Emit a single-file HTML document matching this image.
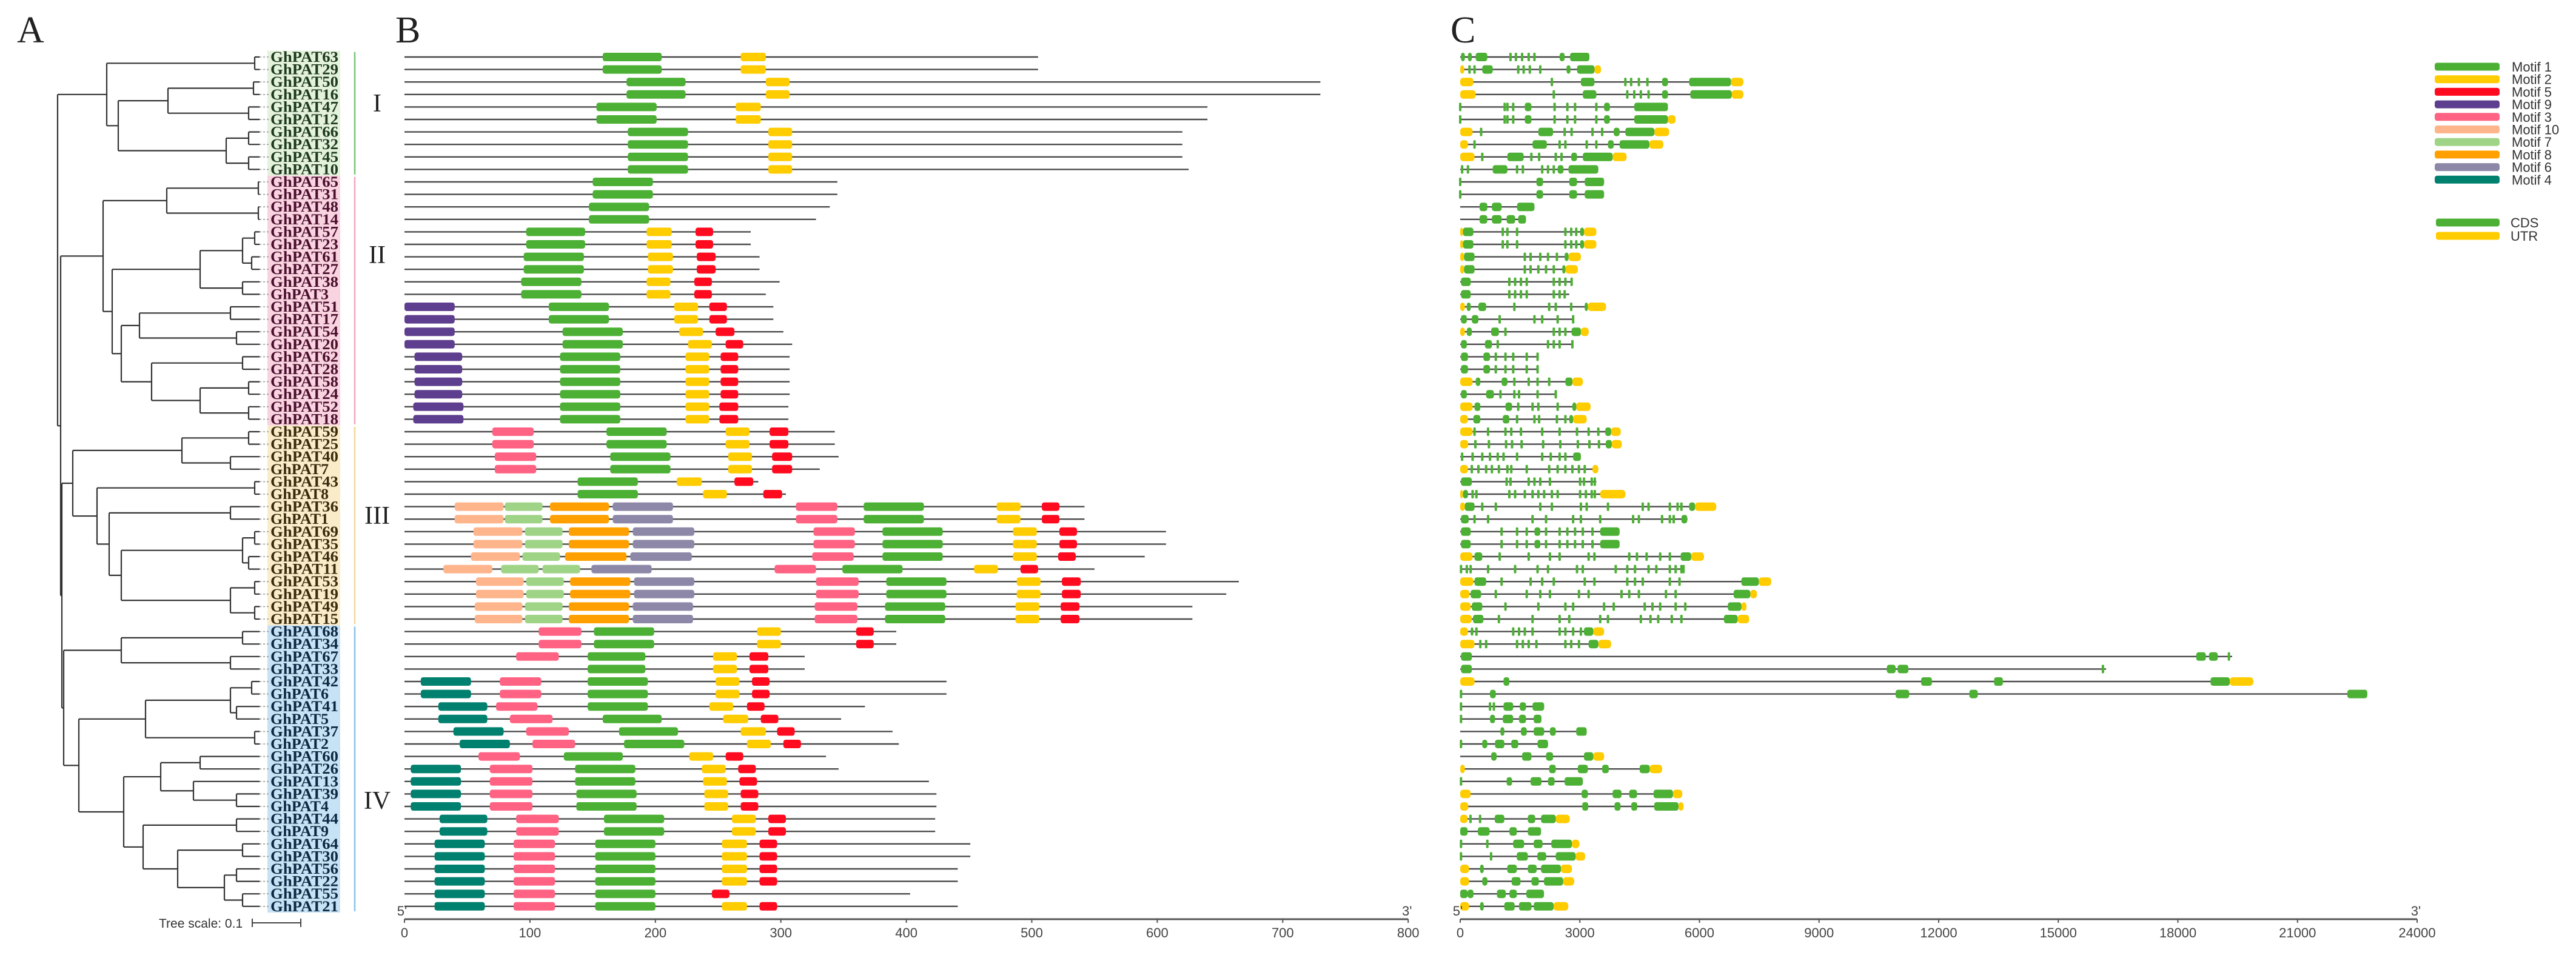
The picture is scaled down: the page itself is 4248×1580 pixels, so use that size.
<!DOCTYPE html>
<html><head><meta charset="utf-8"><title>GhPAT phylogeny, motifs and gene structure</title>
<style>
html,body{margin:0;padding:0;background:#fff;}
svg{display:block;}
text{font-family:"Liberation Sans",sans-serif;}
.serif{font-family:"Liberation Serif",serif;}
</style></head>
<body>
<svg id="fig" width="4248" height="1580" viewBox="0 0 4248 1580" xmlns="http://www.w3.org/2000/svg">
<rect x="0" y="0" width="4248" height="1580" fill="#fff"/>
<text class="serif" x="28" y="70" font-size="62" fill="#222">A</text>
<text class="serif" x="652" y="70" font-size="62" fill="#222">B</text>
<text class="serif" x="2392" y="70" font-size="62" fill="#222">C</text>
<g id="tree"></g>
<g id="labels"></g>
<g id="groups"></g>
<g id="motifs"></g>
<g id="genes"></g>
<g id="legend"></g>
<g>
<text x="262" y="1530" font-size="21" fill="#333">Tree scale: 0.1</text>
<line x1="416" y1="1522" x2="496" y2="1522" stroke="#444" stroke-width="2"/>
<line x1="416" y1="1515" x2="416" y2="1529" stroke="#444" stroke-width="2"/>
<line x1="496" y1="1515" x2="496" y2="1529" stroke="#444" stroke-width="2"/>
</g>
</svg>
<script>
const geneNames = ["GhPAT63","GhPAT29","GhPAT50","GhPAT16","GhPAT47","GhPAT12","GhPAT66","GhPAT32","GhPAT45","GhPAT10",
"GhPAT65","GhPAT31","GhPAT48","GhPAT14","GhPAT57","GhPAT23","GhPAT61","GhPAT27","GhPAT38","GhPAT3",
"GhPAT51","GhPAT17","GhPAT54","GhPAT20","GhPAT62","GhPAT28","GhPAT58","GhPAT24","GhPAT52","GhPAT18",
"GhPAT59","GhPAT25","GhPAT40","GhPAT7","GhPAT43","GhPAT8","GhPAT36","GhPAT1","GhPAT69","GhPAT35",
"GhPAT46","GhPAT11","GhPAT53","GhPAT19","GhPAT49","GhPAT15","GhPAT68","GhPAT34","GhPAT67","GhPAT33",
"GhPAT42","GhPAT6","GhPAT41","GhPAT5","GhPAT37","GhPAT2","GhPAT60","GhPAT26","GhPAT13","GhPAT39",
"GhPAT4","GhPAT44","GhPAT9","GhPAT64","GhPAT30","GhPAT56","GhPAT22","GhPAT55","GhPAT21"];
const groupNames = ["I","II","III","IV"];
const groupStart = [0,10,30,46];
const groupEnd = [9,29,45,68];
const groupLabelY = [170,420,850,1320];
const groupBg = ["#e4f1dc","#f9d3e0","#fbecc9","#c6e2f4"];
const groupText = ["#1d3a1d","#4a0f2c","#3a2a0e","#0c2843"];
const groupLine = ["#7cc47c","#f2a6c0","#f1d79c","#8cc3e8"];
/* tree: [nodeX, child, child] ; numbers = leaf row index */
const treeI = [176,[420,0,1],[195,[277,[418,2,3],[410,4,5]],[373,[410,6,7],[410,8,9]]]];
const treeIIa = [275,[426,10,11],[426,12,13]];
const treeIIb = [185,[330,[400,[420,14,15],[415,16,17]],[400,18,19]],[200,[230,[380,20,21],[390,22,23]],[250,[400,24,25],[330,[410,26,27],[410,28,29]]]]];
const treeIII = [120,[300,[410,30,31],[380,32,33]],[160,[420,34,35],[180,[380,36,37],[200,[400,[420,38,39],[410,40,41]],[380,[420,42,43],[420,44,45]]]]]];
const treeIV = [105,[200,[400,46,47],[380,48,49]],[130,[240,[380,[415,50,51],[390,52,53]],[420,54,55]],[204,[265,[330,56,57],[319,58,[390,59,60]]],[236,[390,61,62],[293,[400,63,64],[370,[390,65,66],[400,67,68]]]]]]];
const treeRoot = [95,treeI,[100,[170,treeIIa,treeIIb],[102,treeIII,treeIV]]];

const motifNames = ["Motif 1","Motif 2","Motif 5","Motif 9","Motif 3","Motif 10","Motif 7","Motif 8","Motif 6","Motif 4"];
const motifIds = [1,2,5,9,3,10,7,8,6,4];
const motifColors = ["#4cb034","#ffcc00","#ff0a1e","#5e3e8e","#ff6282","#ffb58c","#9fd486","#ffa000","#8e88a8","#00806e"];
const protLen = [505,505,730,730,640,640,620,620,620,625,345,345,339,328,276,276,283,283,299,288,
294,294,302,309,307,307,307,307,306,306,343,343,346,331,282,304,542,542,607,607,
590,550,665,655,628,628,392,392,319,319,432,432,367,348,389,394,336,346,418,424,
424,423,423,451,451,441,441,403,441];
const motifSites = [
[[1,158,205],[2,268,288]],[[1,158,205],[2,268,288]],[[1,177,224],[2,288,307]],[[1,177,224],[2,288,307]],
[[1,153,201],[2,264,284]],[[1,153,201],[2,264,284]],[[1,178,226],[2,290,309]],[[1,178,226],[2,290,309]],
[[1,178,226],[2,290,309]],[[1,178,226],[2,290,309]],
[[1,150,198]],[[1,150,198]],[[1,147,195]],[[1,147,195]],
[[1,97,144],[2,193,213],[5,232,246]],[[1,97,144],[2,193,213],[5,232,246]],
[[1,95,143],[2,194,214],[5,233,248]],[[1,95,143],[2,194,214],[5,233,248]],
[[1,93,141],[2,193,212],[5,231,245]],[[1,93,141],[2,193,212],[5,231,245]],
[[9,0,40],[1,115,163],[2,215,234],[5,243,257]],[[9,0,40],[1,115,163],[2,215,234],[5,243,257]],
[[9,0,40],[1,126,174],[2,219,238],[5,248,263]],[[9,0,40],[1,126,174],[2,226,245],[5,256,270]],
[[9,8,46],[1,124,172],[2,224,243],[5,252,266]],[[9,8,46],[1,124,172],[2,224,243],[5,252,266]],
[[9,8,46],[1,124,172],[2,224,243],[5,252,266]],[[9,8,46],[1,124,172],[2,224,243],[5,252,266]],
[[9,7,47],[1,124,172],[2,224,243],[5,251,266]],[[9,7,47],[1,124,172],[2,224,243],[5,251,266]],
[[3,70,103],[1,161,209],[2,256,275],[5,291,306]],[[3,70,103],[1,161,209],[2,256,275],[5,291,306]],
[[3,72,105],[1,164,212],[2,258,277],[5,293,309]],[[3,72,105],[1,164,212],[2,258,277],[5,293,309]],
[[1,138,186],[2,217,237],[5,263,278]],[[1,138,186],[2,238,257],[5,286,301]],
[[10,40,79],[7,80,110],[8,116,163],[6,166,214],[3,312,345],[1,366,414],[2,472,491],[5,508,522]],
[[10,40,79],[7,80,110],[8,116,163],[6,166,214],[3,312,345],[1,366,414],[2,472,491],[5,508,522]],
[[10,55,94],[7,96,126],[8,131,179],[6,182,231],[3,326,359],[1,381,429],[2,485,504],[5,522,536]],
[[10,55,94],[7,96,126],[8,131,179],[6,182,231],[3,326,359],[1,381,429],[2,485,504],[5,522,536]],
[[10,53,92],[7,94,124],[8,128,177],[6,180,229],[3,325,358],[1,381,429],[2,485,504],[5,521,535]],
[[10,31,70],[7,77,107],[7,110,140],[6,149,197],[3,295,328],[1,349,397],[2,454,473],[5,491,505]],
[[10,57,95],[7,97,127],[8,132,180],[6,183,231],[3,328,362],[1,384,432],[2,488,507],[5,524,539]],
[[10,57,95],[7,97,127],[8,132,180],[6,183,231],[3,328,362],[1,384,432],[2,488,507],[5,524,539]],
[[10,56,94],[7,96,126],[8,131,179],[6,182,230],[3,327,361],[1,383,431],[2,487,506],[5,523,538]],
[[10,56,94],[7,96,126],[8,131,179],[6,182,230],[3,327,361],[1,383,431],[2,487,506],[5,523,538]],
[[3,107,141],[1,151,199],[2,281,300],[5,360,374]],[[3,107,141],[1,151,199],[2,281,300],[5,360,374]],
[[3,89,123],[1,146,192],[2,246,265],[5,275,290]],[[1,146,192],[2,246,265],[5,275,290]],
[[4,13,53],[3,76,109],[1,146,194],[2,248,267],[5,277,291]],[[4,13,53],[3,76,109],[1,146,194],[2,248,267],[5,277,291]],
[[4,27,66],[3,73,106],[1,146,194],[2,243,262],[5,273,287]],[[4,27,66],[3,84,118],[1,158,205],[2,254,274],[5,284,298]],
[[4,39,79],[3,97,131],[1,171,218],[2,268,288],[5,297,311]],[[4,44,84],[3,102,136],[1,175,223],[2,273,292],[5,302,316]],
[[3,59,92],[1,127,174],[2,227,246],[5,256,270]],[[4,5,45],[3,68,102],[1,136,184],[2,237,256],[5,266,280]],
[[4,5,45],[3,68,102],[1,136,184],[2,238,257],[5,267,281]],[[4,5,45],[3,68,102],[1,137,185],[2,239,258],[5,268,282]],
[[4,5,45],[3,68,102],[1,137,185],[2,239,258],[5,268,282]],
[[4,28,66],[3,89,123],[1,159,207],[2,261,280],[5,290,304]],[[4,28,66],[3,89,123],[1,159,207],[2,261,280],[5,290,304]],
[[4,24,64],[3,87,120],[1,152,200],[2,253,273],[5,283,297]],[[4,24,64],[3,87,120],[1,152,200],[2,253,273],[5,283,297]],
[[4,24,64],[3,87,120],[1,152,200],[2,253,273],[5,283,297]],[[4,24,64],[3,87,120],[1,152,200],[2,253,273],[5,283,297]],
[[4,24,64],[3,87,120],[1,152,200],[5,245,259]],[[4,24,64],[3,87,120],[1,152,200],[2,253,273],[5,283,297]]
];
const axisBTicks = [0,100,200,300,400,500,600,700,800];

const geneLen = [3240,3530,7100,7100,5209,5400,5238,5093,4171,3463,3608,3608,1862,1649,3414,3414,3026,2949,2820,2735,
3657,2850,3220,2840,1960,1960,3075,2420,3269,3172,4025,4050,3026,3463,3414,4142,6421,5700,3997,3997,
6111,5600,7799,7440,7178,7246,3608,3783,19360,16200,19890,22750,2105,2037,3172,2202,3608,5063,3075,5568,
5600,2746,2027,2986,3133,2801,2857,2101,2709];
const cdsBlocks = [
[[20,116],[194,291],[388,679],[2493,2619],[2755,3240]],
[[553,815],[2667,2765],[2930,3367]],
[[3026,3366],[5063,5209],[5742,6790]],
[[3075,3414],[5063,5209],[5772,6809]],
[[1620,1785],[3608,3754],[4365,5209]],
[[1620,1785],[3608,3754],[4365,5209]],
[[1960,2328],[3850,3997],[4142,4869]],
[[1814,2173],[3705,3850],[3997,4743]],
[[1183,1591],[2784,2929],[3075,3822]],
[[815,1183],[2444,2590],[2716,3463]],
[[1911,2076],[2735,2929],[3123,3608]],
[[1911,2076],[2735,2929],[3123,3608]],
[[485,679],[795,1038],[1426,1862]],
[[485,679],[795,1038],[1164,1377],[1455,1649]],
[[70,330],[3007,3104]],
[[70,330],[3007,3104]],
[[97,359],[2619,2716]],
[[97,359],[2560,2638]],
[[20,262]],
[[20,262]],
[[165,262],[456,650],[3123,3201]],
[[20,165],[291,456]],
[[165,291],[776,970],[2794,3026]],
[[20,165],[621,795]],
[[20,194],[582,747]],
[[20,194],[582,747]],
[[388,504],[1038,1183],[2638,2813]],
[[20,165],[650,844]],
[[359,504],[1135,1300],[2813,2910]],
[[330,504],[1067,1232],[2735,2832]],
[[3637,3783]],
[[3650,3800]],
[[2832,3026]],
[],
[[20,291]],
[[70,194]],
[[116,359],[5742,5888]],
[[20,213],[5548,5694]],
[[20,262],[1862,2008],[3511,3997]],
[[20,262],[1862,2008],[3511,3997]],
[[359,553],[5529,5791]],
[],
[[359,650],[7052,7488]],
[[262,524],[6858,7275]],
[[291,553],[6712,7052]],
[[320,582],[6615,6955]],
[[262,330],[3104,3337]],
[[3220,3463]],
[[20,291],[18460,18700],[18780,19000]],
[[20,291],[10700,10920],[10970,11240]],
[[1086,1232],[11560,11830],[13390,13610],[18820,19300]],
[[747,892],[10920,11260],[12770,12980],[22250,22750]],
[[1086,1329],[1494,1649],[1814,2105]],
[[747,873],[1067,1329],[1475,1649],[1843,2037]],
[[1009,1106],[1523,1668],[1843,2105],[2250,2396],[2910,3172]],
[[553,679],[873,1106],[1280,1455],[1940,2202]],
[[776,912],[1552,1785],[2153,2328],[3104,3337]],
[[2231,2396],[2949,3201],[3560,3725],[4501,4753]],
[[1164,1300],[1765,2037],[2202,2367],[2619,3075]],
[[3046,3201],[3822,4045],[4239,4433],[4850,5335]],
[[3060,3210],[3870,4020],[4290,4440],[4865,5473]],
[[866,1106],[1696,1880],[2027,2396]],
[[0,184],[442,737],[1235,1419],[1696,2027]],
[[1327,1603],[1843,2064],[2285,2801]],
[[1419,1696],[1935,2156],[2396,2893]],
[[498,590],[1180,1419],[1696,1917],[2027,2525]],
[[553,682],[1290,1511],[1788,1972],[2101,2580]],
[[0,184],[184,332],[921,1143],[1235,1419],[1659,2101]],
[[498,590],[1106,1364],[1474,1788],[1843,2341]]
];
const smallExons = [
[1261,1397,1552,1717,1862],[233,359,1455,1591,1746,2008],[2299,4142,4287,4481,4695],[2347,4190,4365,4530,4724],
[0,1115,1184,1329,2367,2687,2880,3414],[0,1115,1184,1329,2367,2687,2880,3414],[524,2619,2794,3317,3560],[359,2493,2638,3172,3414],
[553,1785,1979,2396,2541],[48,194,1426,1571,2056,2202,2347],[0],[0],[],[],
[1067,1183,1426,2638,2784,2910],[1067,1183,1426,2638,2784,2910],[1620,1765,2008,2202,2425],[1620,1765,1959,2153,2347],
[1232,1377,1523,1668,2347,2493,2638,2794],[1232,1377,1523,1668,2347,2493,2619],[1358,2231,2396,2784],[989,1862,2056,2444,2832],
[1135,2347,2493,2638],[941,2202,2347,2493,2813],[892,1135,1329,1668,1940],[892,1135,1329,1668,1940],
[1358,1717,1940,2231],[1009,1358,1475,1940,2396],[1455,1814,1959,2444],[1426,1862,1979,2425,2638],
[359,698,1135,1281,1523,2056,2493,2929,3220,3463],[380,720,1150,1300,1540,2080,2510,2950,3240,3480],
[48,310,553,747,941,1087,1426,2056,2270,2493,2638],[291,456,650,795,970,1183,1281,1668,2231,2444,2638,2813,2977,3123],
[1164,1261,1717,1862,2008,2250,3007,3104,3298,3375],[310,407,1232,1377,1620,1814,1959,2105,2299,2444,3007,3152,3298,3375],
[553,893,2008,2299,3027,3172,3706,4578,4724,5257,5451,5548],[359,699,1814,2153,2832,3026,3511,4336,4481,5063,5257,5354],
[1038,1426,1668,2153,2493,2687,2880,3074,3317],[1038,1426,1668,2153,2493,2687,2880,3074,3317],
[990,1717,2250,2493,3220,3366,4239,4433,4675,5015,5257],[20,165,262,699,1377,1940,2202,2929,3074,3900,4190,4384,4724,4918,5257,5403,5548,5600],
[1038,1765,2056,2347,3123,3366,4190,4384,4578,5257,5500],[892,1668,2008,2250,2978,3220,4045,4239,4481,5160,5403],
[1135,1959,2638,2832,3608,3850,4627,4821,5015,5403,5645],[970,1814,2493,2735,3511,3706,4530,4772,4966,5306,5548],
[407,1329,1475,1620,1814,2493,2638,2832,3026],[504,650,1426,1571,1717,1911,2638,2784,2978],
[19280],[16120],[],[20],[20,747,844],[20],[],[20],[],[],[20],[],[],[258,498],[],[20,680],[20,774],[],[],[],[]
];
const utrBlocks = [
[],[[0,100],[3367,3530]],[[0,330],[6790,7100]],[[0,388],[6809,7100]],[],[[5209,5400]],[[0,310],[4869,5238]],[[0,194],[4743,5093]],
[[0,359],[3822,4171]],[],[],[],[],[],[[0,70],[3104,3414]],[[0,70],[3104,3414]],[[0,97],[2716,3026]],[[0,97],[2638,2949]],
[],[],[[0,116],[3201,3657]],[],[[0,116],[3026,3220]],[],[],[],[[0,310],[2813,3075]],[],[[0,310],[2910,3269]],[[0,194],[2832,3172]],
[[0,310],[3783,4025]],[[0,200],[3800,4050]],[],[[0,194],[3317,3463]],[],[[0,70],[3511,4142]],[[0,116],[5888,6421]],[],[],[],
[[0,310],[5791,6111]],[],[[0,330],[7488,7799]],[[0,233],[7275,7440]],[[0,262],[7052,7178]],[[0,291],[6955,7246]],
[[0,194],[3337,3608]],[[0,359],[3463,3783]],[],[],[[0,359],[19300,19890]],[],[],[],[],[],[[3337,3608]],[[0,116],[4753,5063]],[],
[[0,262],[5335,5568]],[[0,200],[5473,5600]],[[0,184],[2396,2746]],[],[[2801,2986]],[[2893,3133]],[[0,221],[2525,2801]],[[0,221],[2580,2857]],[],[[0,221],[2341,2709]]
];
const axisCTicks = [0,3000,6000,9000,12000,15000,18000,21000,24000];
const structNames = ["CDS","UTR"];
const structColors = ["#4cb034","#ffcc00"];

const NS = "http://www.w3.org/2000/svg";
function mk(tag, attrs, parent){ const e=document.createElementNS(NS,tag); for(const k in attrs) e.setAttribute(k,attrs[k]); parent.appendChild(e); return e; }
const rowY = i => 94 + i*20.6;
const xB = v => 667 + v*2.069;
const xC = v => 2408 + v*0.06575;

/* ---- tree ---- */
const treeG = document.getElementById('tree');
const LEAFX = 428;
function drawNode(node){
  if (typeof node === 'number'){ return rowY(node); }
  const x = node[0];
  const ys = [];
  for (let k=1;k<node.length;k++){
    const ch = node[k];
    const cy = drawNode(ch);
    const cx = (typeof ch === 'number') ? LEAFX : ch[0];
    const h = mk('line',{x1:x,y1:cy,x2:cx,y2:cy,stroke:'#333','stroke-width':2.2},treeG);
    
    
    ys.push(cy);
  }
  const v = mk('line',{x1:x,y1:Math.min(...ys),x2:x,y2:Math.max(...ys),stroke:'#333','stroke-width':2.2},treeG);
  
  
  return (Math.min(...ys)+Math.max(...ys))/2;
}
drawNode(treeRoot);

/* ---- group backgrounds, labels ---- */
const labG = document.getElementById('labels');
const grpG = document.getElementById('groups');
for (let g=0; g<4; g++){
  const y0 = rowY(groupStart[g]) - 10.3, y1 = rowY(groupEnd[g]) + 10.3;
  const bg = mk('rect',{x:441,y:y0,width:120,height:y1-y0,fill:groupBg[g]},labG);
  
  
  const ln = mk('line',{x1:585,y1:y0+2,x2:585,y2:y1-2,stroke:groupLine[g],'stroke-width':2.5},grpG);
  
  
  const t = mk('text',{x:622,y:groupLabelY[g]+14,'font-size':42,'text-anchor':'middle',fill:'#222',class:'serif'},grpG);
  t.textContent = groupNames[g];
  
  
}
for (let i=0;i<geneNames.length;i++){
  let g = 0; for (let k=0;k<4;k++) if (i>=groupStart[k] && i<=groupEnd[k]) g=k;
  const y = rowY(i);
  const d = mk('line',{x1:LEAFX,y1:y,x2:445,y2:y,stroke:'#999','stroke-width':1.6,'stroke-dasharray':'3,3'},labG);
  
  
  const nm = geneNames[i];
  const t = mk('text',{x:446,y:y+8,'font-size':25,fill:groupText[g],class:'serif','font-weight':'bold',textLength:(nm.length===6?96:112),lengthAdjust:'spacingAndGlyphs'},labG);
  t.textContent = nm;
  
  
}

/* ---- motif panel ---- */
const mG = document.getElementById('motifs');
for (let i=0;i<protLen.length;i++){
  const y = rowY(i);
  const l = mk('line',{x1:xB(0),y1:y,x2:xB(protLen[i]),y2:y,stroke:'#4a4a4a','stroke-width':2.4},mG);
  
  
  for (const s of motifSites[i]){
    const ci = motifIds.indexOf(s[0]);
    const r = mk('rect',{x:xB(s[1]),y:y-7,width:xB(s[2])-xB(s[1]),height:14,rx:4,fill:motifColors[ci]},mG);
    
    
  }
}
function drawAxis(g, x0, x1, ticks, fx, nm){
  const ay = 1516;
  const a = mk('line',{x1:x0,y1:ay,x2:x1,y2:ay,stroke:'#555','stroke-width':3},g);
  
  
  for (const t of ticks){
    const tk = mk('line',{x1:fx(t),y1:ay,x2:fx(t),y2:ay+6,stroke:'#555','stroke-width':2},g);
    
    
    const tx = mk('text',{x:fx(t),y:ay+30,'font-size':22,'text-anchor':'middle',fill:'#444'},g);
    tx.textContent = String(t);
    
    
  }
  const p5 = mk('text',{x:x0-4,y:ay-6,'font-size':22,'text-anchor':'middle',fill:'#444'},g);
  p5.textContent = "5'";
  
  
  const p3 = mk('text',{x:x1-2,y:ay-6,'font-size':22,'text-anchor':'middle',fill:'#444'},g);
  p3.textContent = "3'";
  
  
}
drawAxis(mG, xB(0), xB(800), axisBTicks, xB, 'motif');

/* ---- gene structure panel ---- */
const gG = document.getElementById('genes');
for (let i=0;i<geneLen.length;i++){
  const y = rowY(i);
  const l = mk('line',{x1:xC(0),y1:y,x2:xC(geneLen[i]),y2:y,stroke:'#4a4a4a','stroke-width':2.4},gG);
  
  
  for (const u of utrBlocks[i]){
    const r = mk('rect',{x:xC(u[0]),y:y-7,width:Math.max(4,xC(u[1])-xC(u[0])),height:14,rx:5,fill:structColors[1]},gG);
    
    
  }
  for (const c of cdsBlocks[i]){
    const r = mk('rect',{x:xC(c[0]),y:y-7,width:Math.max(4,xC(c[1])-xC(c[0])),height:14,rx:4,fill:structColors[0]},gG);
    
    
  }
  for (const c of smallExons[i]){
    const r = mk('rect',{x:xC(c)-2,y:y-7,width:4,height:14,rx:1.5,fill:structColors[0]},gG);
    
    
  }
}
drawAxis(gG, xC(0), xC(24000), axisCTicks, xC, 'gene');

/* ---- legend ---- */
const lG = document.getElementById('legend');
for (let k=0;k<motifNames.length;k++){
  const y = 110 + k*20.7;
  const r = mk('rect',{x:4015,y:y-6.5,width:107,height:13,rx:4,fill:motifColors[k]},lG);
  
  
  const t = mk('text',{x:4142,y:y+8,'font-size':22,fill:'#333'},lG);
  t.textContent = motifNames[k];
  
  
}
for (let k=0;k<structNames.length;k++){
  const y = 367 + k*22;
  const r = mk('rect',{x:4017,y:y-6.5,width:105,height:13,rx:4,fill:structColors[k]},lG);
  
  
  const t = mk('text',{x:4140,y:y+8,'font-size':22,fill:'#333'},lG);
  t.textContent = structNames[k];
  
  
}
</script>
</body></html>
